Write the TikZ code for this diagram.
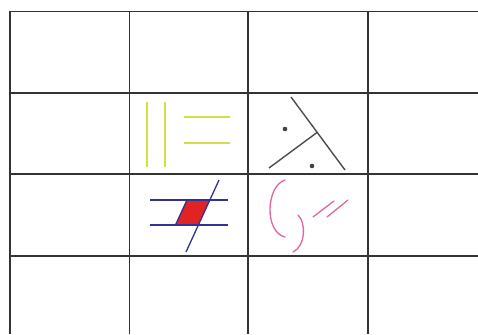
\documentclass[tikz,border=0pt]{standalone}
\definecolor{redfill}{RGB}{225,35,35}
\begin{document}
\begin{tikzpicture}[x=1pt,y=-1pt,
  gridline/.style={draw=black!80, line width=1.2pt},
  yel/.style={draw={rgb,255:red,212;green,222;blue,70}, line width=1.8pt},
  gry/.style={draw=black!70, line width=1.4pt},
  blu/.style={draw={rgb,255:red,50;green,50;blue,150}, line width=1.3pt},
  pnk/.style={draw={rgb,255:red,226;green,100;blue,160}, line width=1.3pt, line cap=round}]
\useasboundingbox (0,0) rectangle (478,334);
% grid
\foreach \x in {10,129.5,248,368} \draw[gridline] (\x,11.5) -- (\x,334);
\foreach \y in {11.5,93,174,256} \draw[gridline] (10,\y) -- (478,\y);
% yellow
\draw[yel] (147,102) -- (147,167);
\draw[yel] (165,102) -- (165,167);
\draw[yel] (184,117) -- (230,117);
\draw[yel] (184,143) -- (230,143);
% gray
\coordinate (g1) at (291,97);
\coordinate (g2) at (345,170);
\coordinate (gm) at (317,132.5);
\draw[gry] (g1) -- (g2);
\draw[gry] (269,168) -- (gm);
\fill[black!75] (285,129) circle (2.3pt);
\fill[black!75] (312,166) circle (2.3pt);
% blue
\fill[redfill] (187,200) -- (209.8,200) -- (198.4,225) -- (175.5,225) -- cycle;
\draw[blu] (187,200) -- (175.5,225);
\draw[blu] (150,200) -- (228,200);
\draw[blu] (150,225) -- (228,225);
\draw[blu] (186,252) -- (219,180);
% pink
\draw[pnk] (285,180) .. controls (266,186) and (264,232) .. (285,237);
\draw[pnk] (298,215) .. controls (306,222) and (306,246) .. (293,252);
\draw[pnk] (313,217) -- (334,201);
\draw[pnk] (327,217) -- (348,200);
\end{tikzpicture}
\end{document}
